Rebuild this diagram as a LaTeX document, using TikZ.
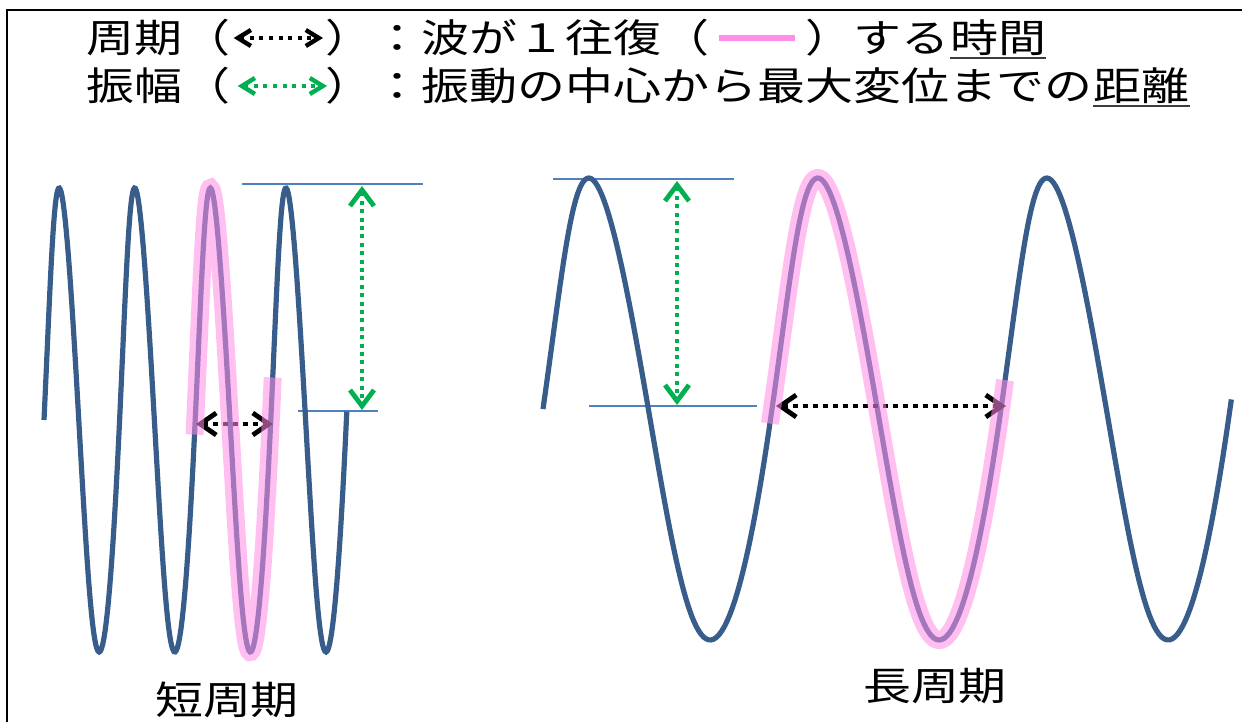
\documentclass[tikz,border=0pt]{standalone}
\usepackage{fontspec}
\setmainfont{Noto Sans CJK JP}[FakeStretch=1.23]
\usepackage{xcolor}
\usetikzlibrary{arrows.meta, positioning}

\definecolor{wavecol}{RGB}{56,93,138}
\definecolor{refcol}{RGB}{79,129,189}
\definecolor{ampgreen}{RGB}{0,176,80}
\definecolor{hlpink}{RGB}{255,140,230}
\definecolor{ulgray}{RGB}{60,60,60}

\tikzset{
  jp/.style={anchor=west, inner sep=0pt, text height=17.2pt, text depth=2.3pt,
    font=\fontsize{19.5}{23}\selectfont},
  wave/.style={wavecol, line width=2.6pt},
  refline/.style={refcol, line width=0.8pt},
  hilite/.style={hlpink, opacity=0.55, line width=9pt},
  perarrow/.style={black, line width=2.4pt, dash pattern=on 2.5pt off 2.5pt,
    {Straight Barb[length=8pt,width=11pt,line width=2.4pt]}-{Straight Barb[length=8pt,width=11pt,line width=2.4pt]}},
  perkey/.style={black, line width=2.2pt, dash pattern=on 2pt off 2.8pt,
    {Straight Barb[length=6.5pt,width=8pt,line width=2.2pt]}-{Straight Barb[length=6.5pt,width=8pt,line width=2.2pt]}},
  amparrow/.style={ampgreen, line width=2.2pt, dash pattern=on 2pt off 2.2pt,
    {Straight Barb[length=8pt,width=12pt,line width=2.4pt]}-{Straight Barb[length=8pt,width=12pt,line width=2.4pt]}},
  ampkey/.style={ampgreen, line width=2.2pt, dash pattern=on 2pt off 2.8pt,
    {Straight Barb[length=6.5pt,width=8pt,line width=2.2pt]}-{Straight Barb[length=6.5pt,width=8pt,line width=2.2pt]}},
  declare function={wx(\s)=\s-0.015*sin(360*\s)-0.02*(1-cos(360*\s))+0.0075*(cos(720*\s)-1);}
}

\begin{document}
\begin{tikzpicture}[x=0.5pt, y=-0.5pt]
  \useasboundingbox (0,0) rectangle (1242,722);
  \draw[line width=1.2pt] (7,722) -- (7,10) -- (1242,10);

  % key
  \node[jp] (perA) at (86,38) {周期（};
  \node[jp] (perB) at (325,38) {）：波が１往復（};
  \node[jp] (perC) at (805,38) {）する};
  \node[jp, right=0pt of perC] (jikan) {時間};
  \draw[perkey, shorten <=1.5pt, shorten >=1pt] (perA.east) -- (perB.west);
  \draw[hlpink, line width=3pt, shorten <=4.5pt, shorten >=5pt] (perB.east) -- (perC.west);
  \draw[ulgray, line width=1.2pt] (jikan.south west) -- (jikan.south east);

  \node[jp] (ampA) at (86,86) {振幅（};
  \node[jp] (ampB) at (325,86) {）：振動の中心から最大変位までの};
  \node[jp, right=0pt of ampB] (kyori) {距離};
  \draw[ampkey, shorten <=3.5pt, shorten >=-1pt] (ampA.east) -- (ampB.west);
  \draw[ulgray, line width=1.2pt] (kyori.south west) -- (kyori.south east);

  % short period
  \draw[refline] (242,184) -- (423,184);
  \draw[refline] (298,411) -- (378,411);
  \draw[wave] plot[domain=0:4.01, samples=300, variable=\t]
    ({44+75.6*wx(\t)}, {420-232*sin(360*\t)});
  \coordinate (sL) at (196,424);
  \coordinate (sR) at (273,424);
  \draw[perarrow] (sL) -- (sR);
  \draw[hilite] plot[domain=1.99:3.03, samples=100, variable=\t]
    ({44+75.6*wx(\t)}, {420-232*sin(360*\t)});
  \coordinate (gsT) at (362,186);
  \coordinate (gsB) at (362,410);
  \draw[amparrow] (gsT) -- (gsB);
  \node[jp, anchor=center] (lblshort) at (227,700) {短周期};

  % long period
  \draw[refline] (553,179) -- (734,179);
  \draw[refline] (589,406) -- (757,406);
  \draw[wave] plot[domain=0:3.01, samples=300, variable=\t]
    ({543+229*wx(\t)}, {409-231*sin(360*\t)});
  \coordinate (lL) at (776,406);
  \coordinate (lR) at (1006,406);
  \draw[perarrow] (lL) -- (lR);
  \draw[hilite] plot[domain=0.99:2.02, samples=150, variable=\t]
    ({543+229*wx(\t)}, {409-231*sin(360*\t)});
  \coordinate (glT) at (677,181);
  \coordinate (glB) at (677,405);
  \draw[amparrow] (glT) -- (glB);
  \node[jp, anchor=center] (lbllong) at (935,686) {長周期};
\end{tikzpicture}
\end{document}
